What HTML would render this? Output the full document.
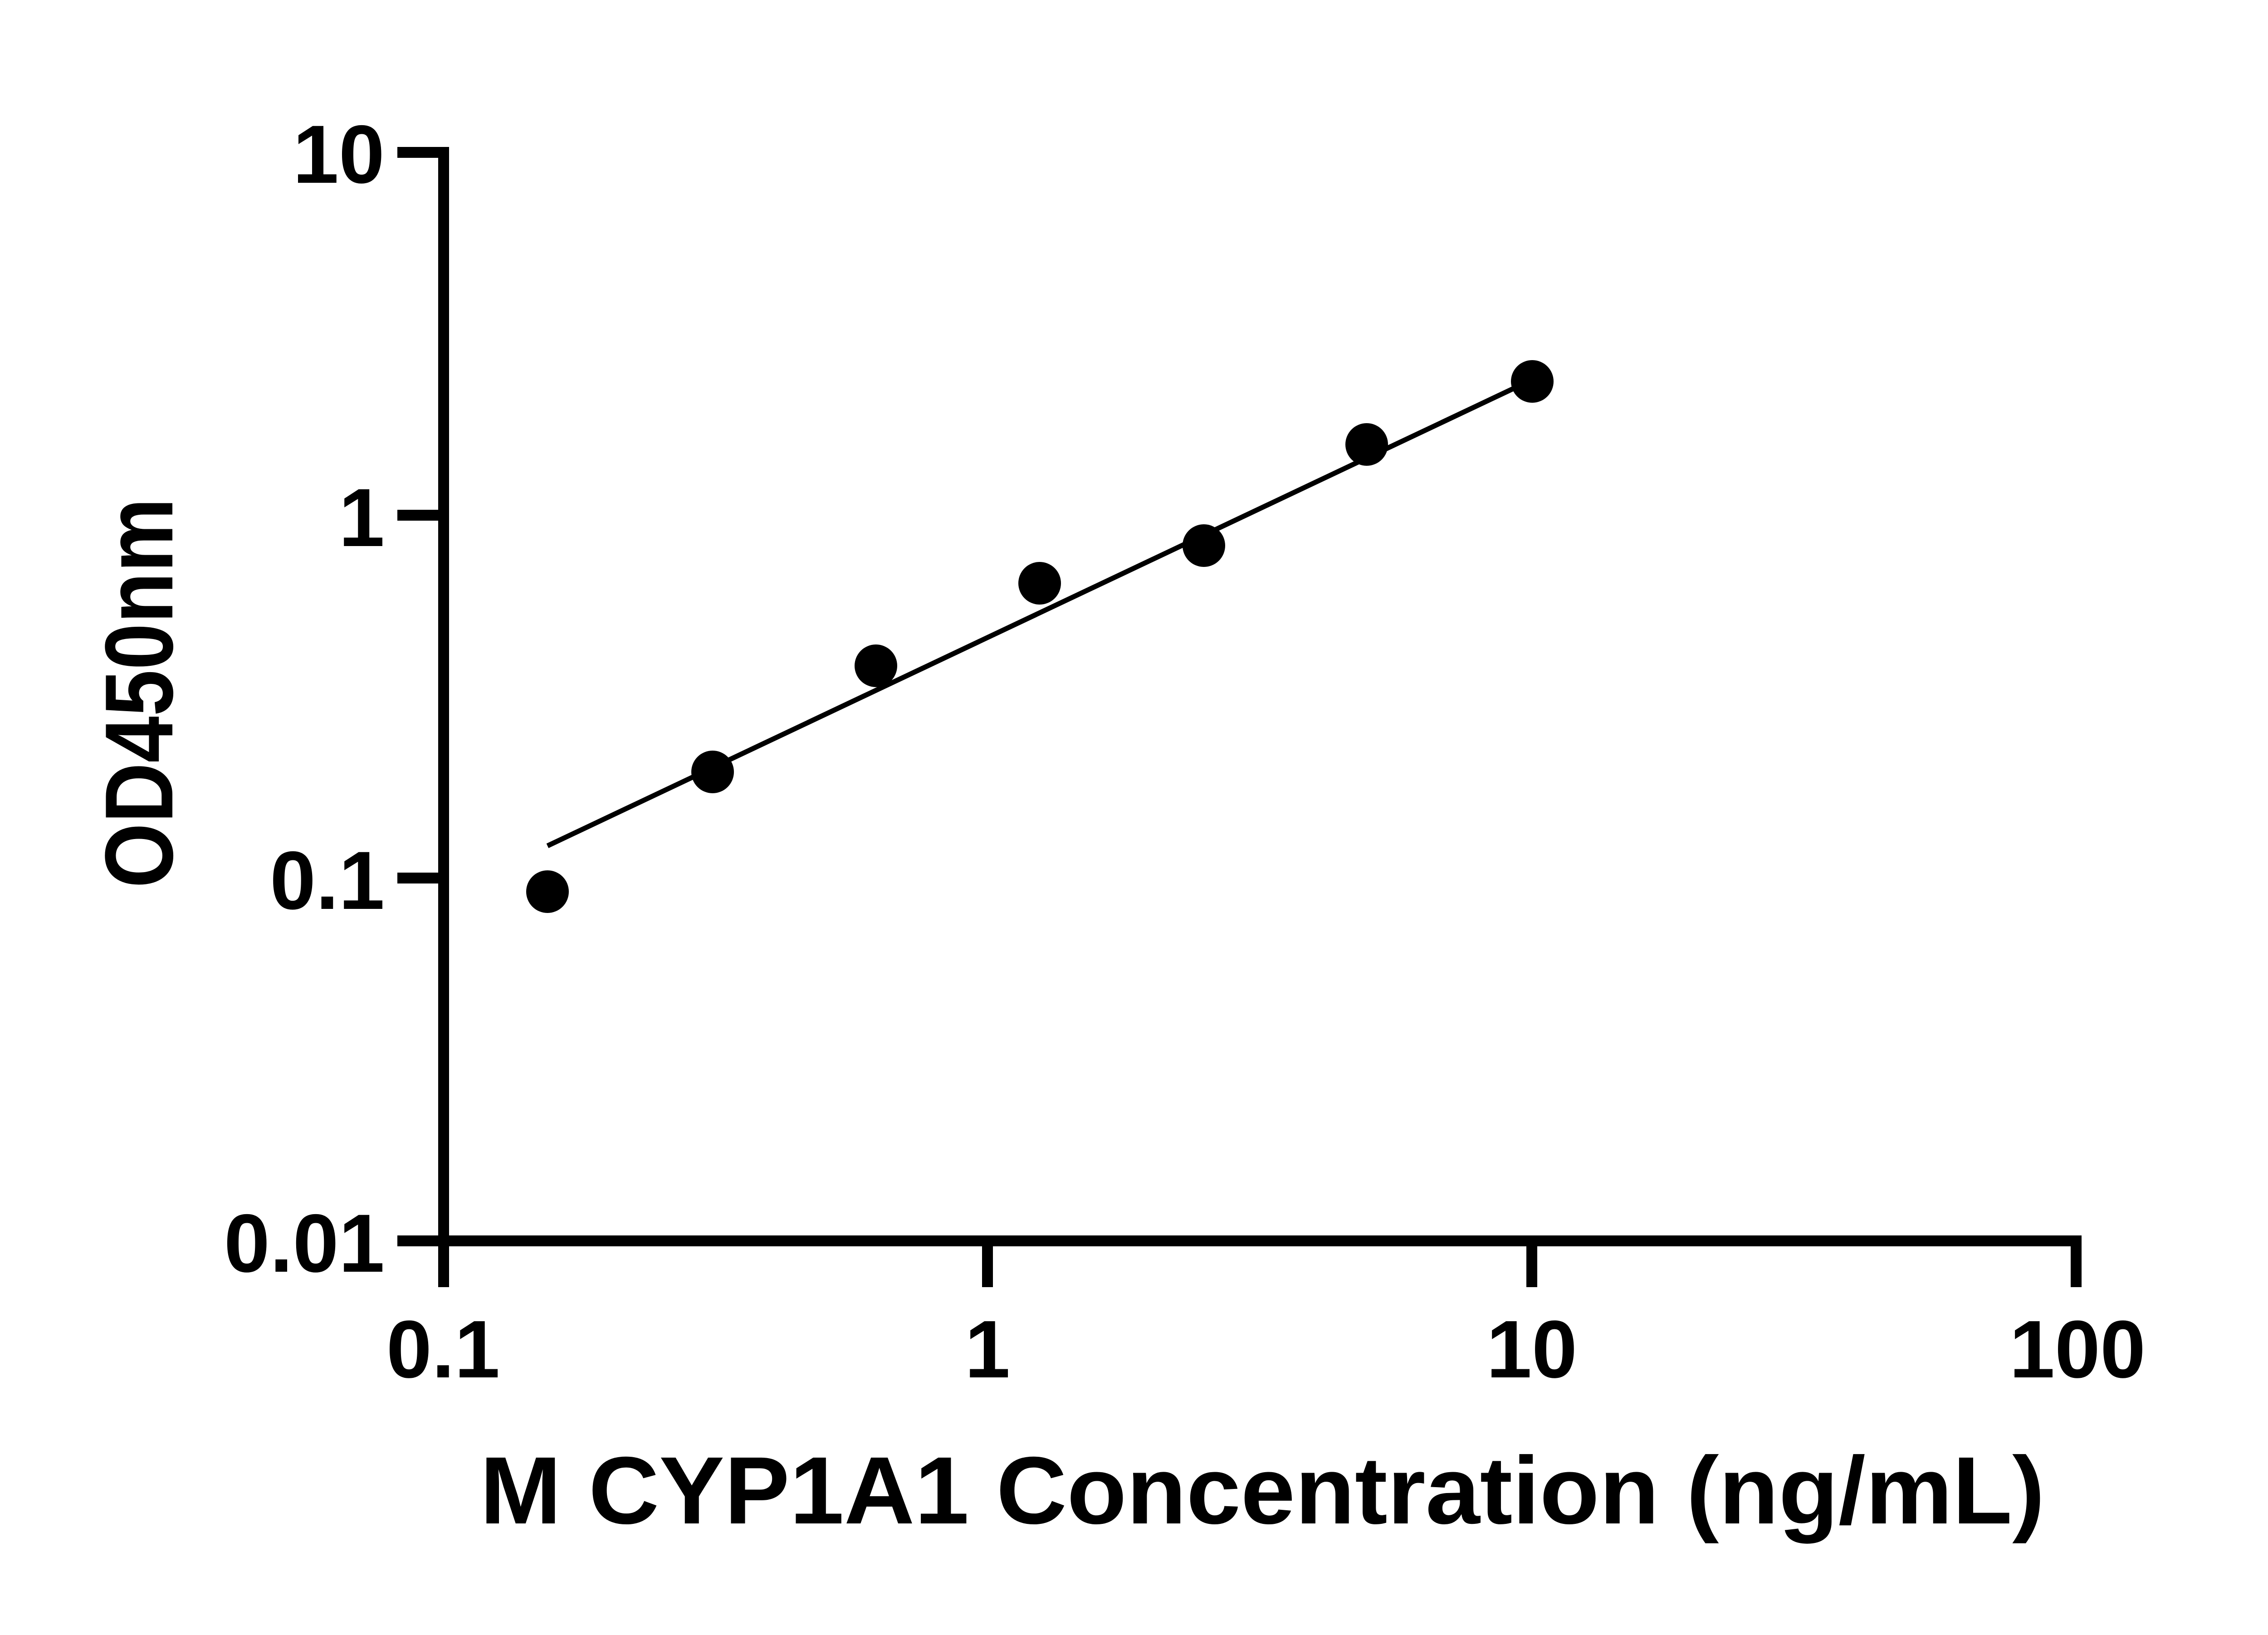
<!DOCTYPE html>
<html><head><style>html,body{margin:0;padding:0;background:#fff}</style></head>
<body>
<svg width="5130" height="3600" viewBox="0 0 5130 3600" xmlns="http://www.w3.org/2000/svg">
<rect width="5130" height="3600" fill="#fff"/>
<g stroke="#000" stroke-width="24" fill="none">
<line x1="978" y1="324" x2="978" y2="2838"/>
<line x1="966" y1="2736" x2="4589" y2="2736"/>
<line x1="876" y1="336" x2="978" y2="336"/>
<line x1="876" y1="1136" x2="978" y2="1136"/>
<line x1="876" y1="1936" x2="978" y2="1936"/>
<line x1="876" y1="2736" x2="978" y2="2736"/>
<line x1="2177" y1="2736" x2="2177" y2="2838"/>
<line x1="3377" y1="2736" x2="3377" y2="2838"/>
<line x1="4577" y1="2724" x2="4577" y2="2838"/>
</g>
<line x1="1207" y1="1865" x2="3340" y2="855" stroke="#000" stroke-width="11"/>
<g fill="#000">
<circle cx="1207" cy="1966" r="47"/>
<circle cx="1571" cy="1702" r="47"/>
<circle cx="1931" cy="1468" r="47"/>
<circle cx="2292" cy="1286" r="47"/>
<circle cx="2654" cy="1203" r="47"/>
<circle cx="3013" cy="980" r="47"/>
<circle cx="3378" cy="841" r="47"/>
</g>
<g font-family="Liberation Sans, sans-serif" font-weight="bold" fill="#000">
<g font-size="182" text-anchor="end">
<text x="848" y="403">10</text>
<text x="848" y="1204">1</text>
<text x="848" y="2004">0.1</text>
<text x="848" y="2804">0.01</text>
</g>
<g font-size="180" text-anchor="middle">
<text x="977" y="3037">0.1</text>
<text x="2177" y="3037">1</text>
<text x="3377" y="3037">10</text>
<text x="4580" y="3037">100</text>
</g>
<text x="1058" y="3359" font-size="211" textLength="3450" lengthAdjust="spacingAndGlyphs">M CYP1A1 Concentration (ng/mL)</text>
<text transform="translate(380,1528) rotate(-90)" font-size="213" text-anchor="middle" textLength="860" lengthAdjust="spacingAndGlyphs">OD450nm</text>
</g>
</svg>
</body></html>
